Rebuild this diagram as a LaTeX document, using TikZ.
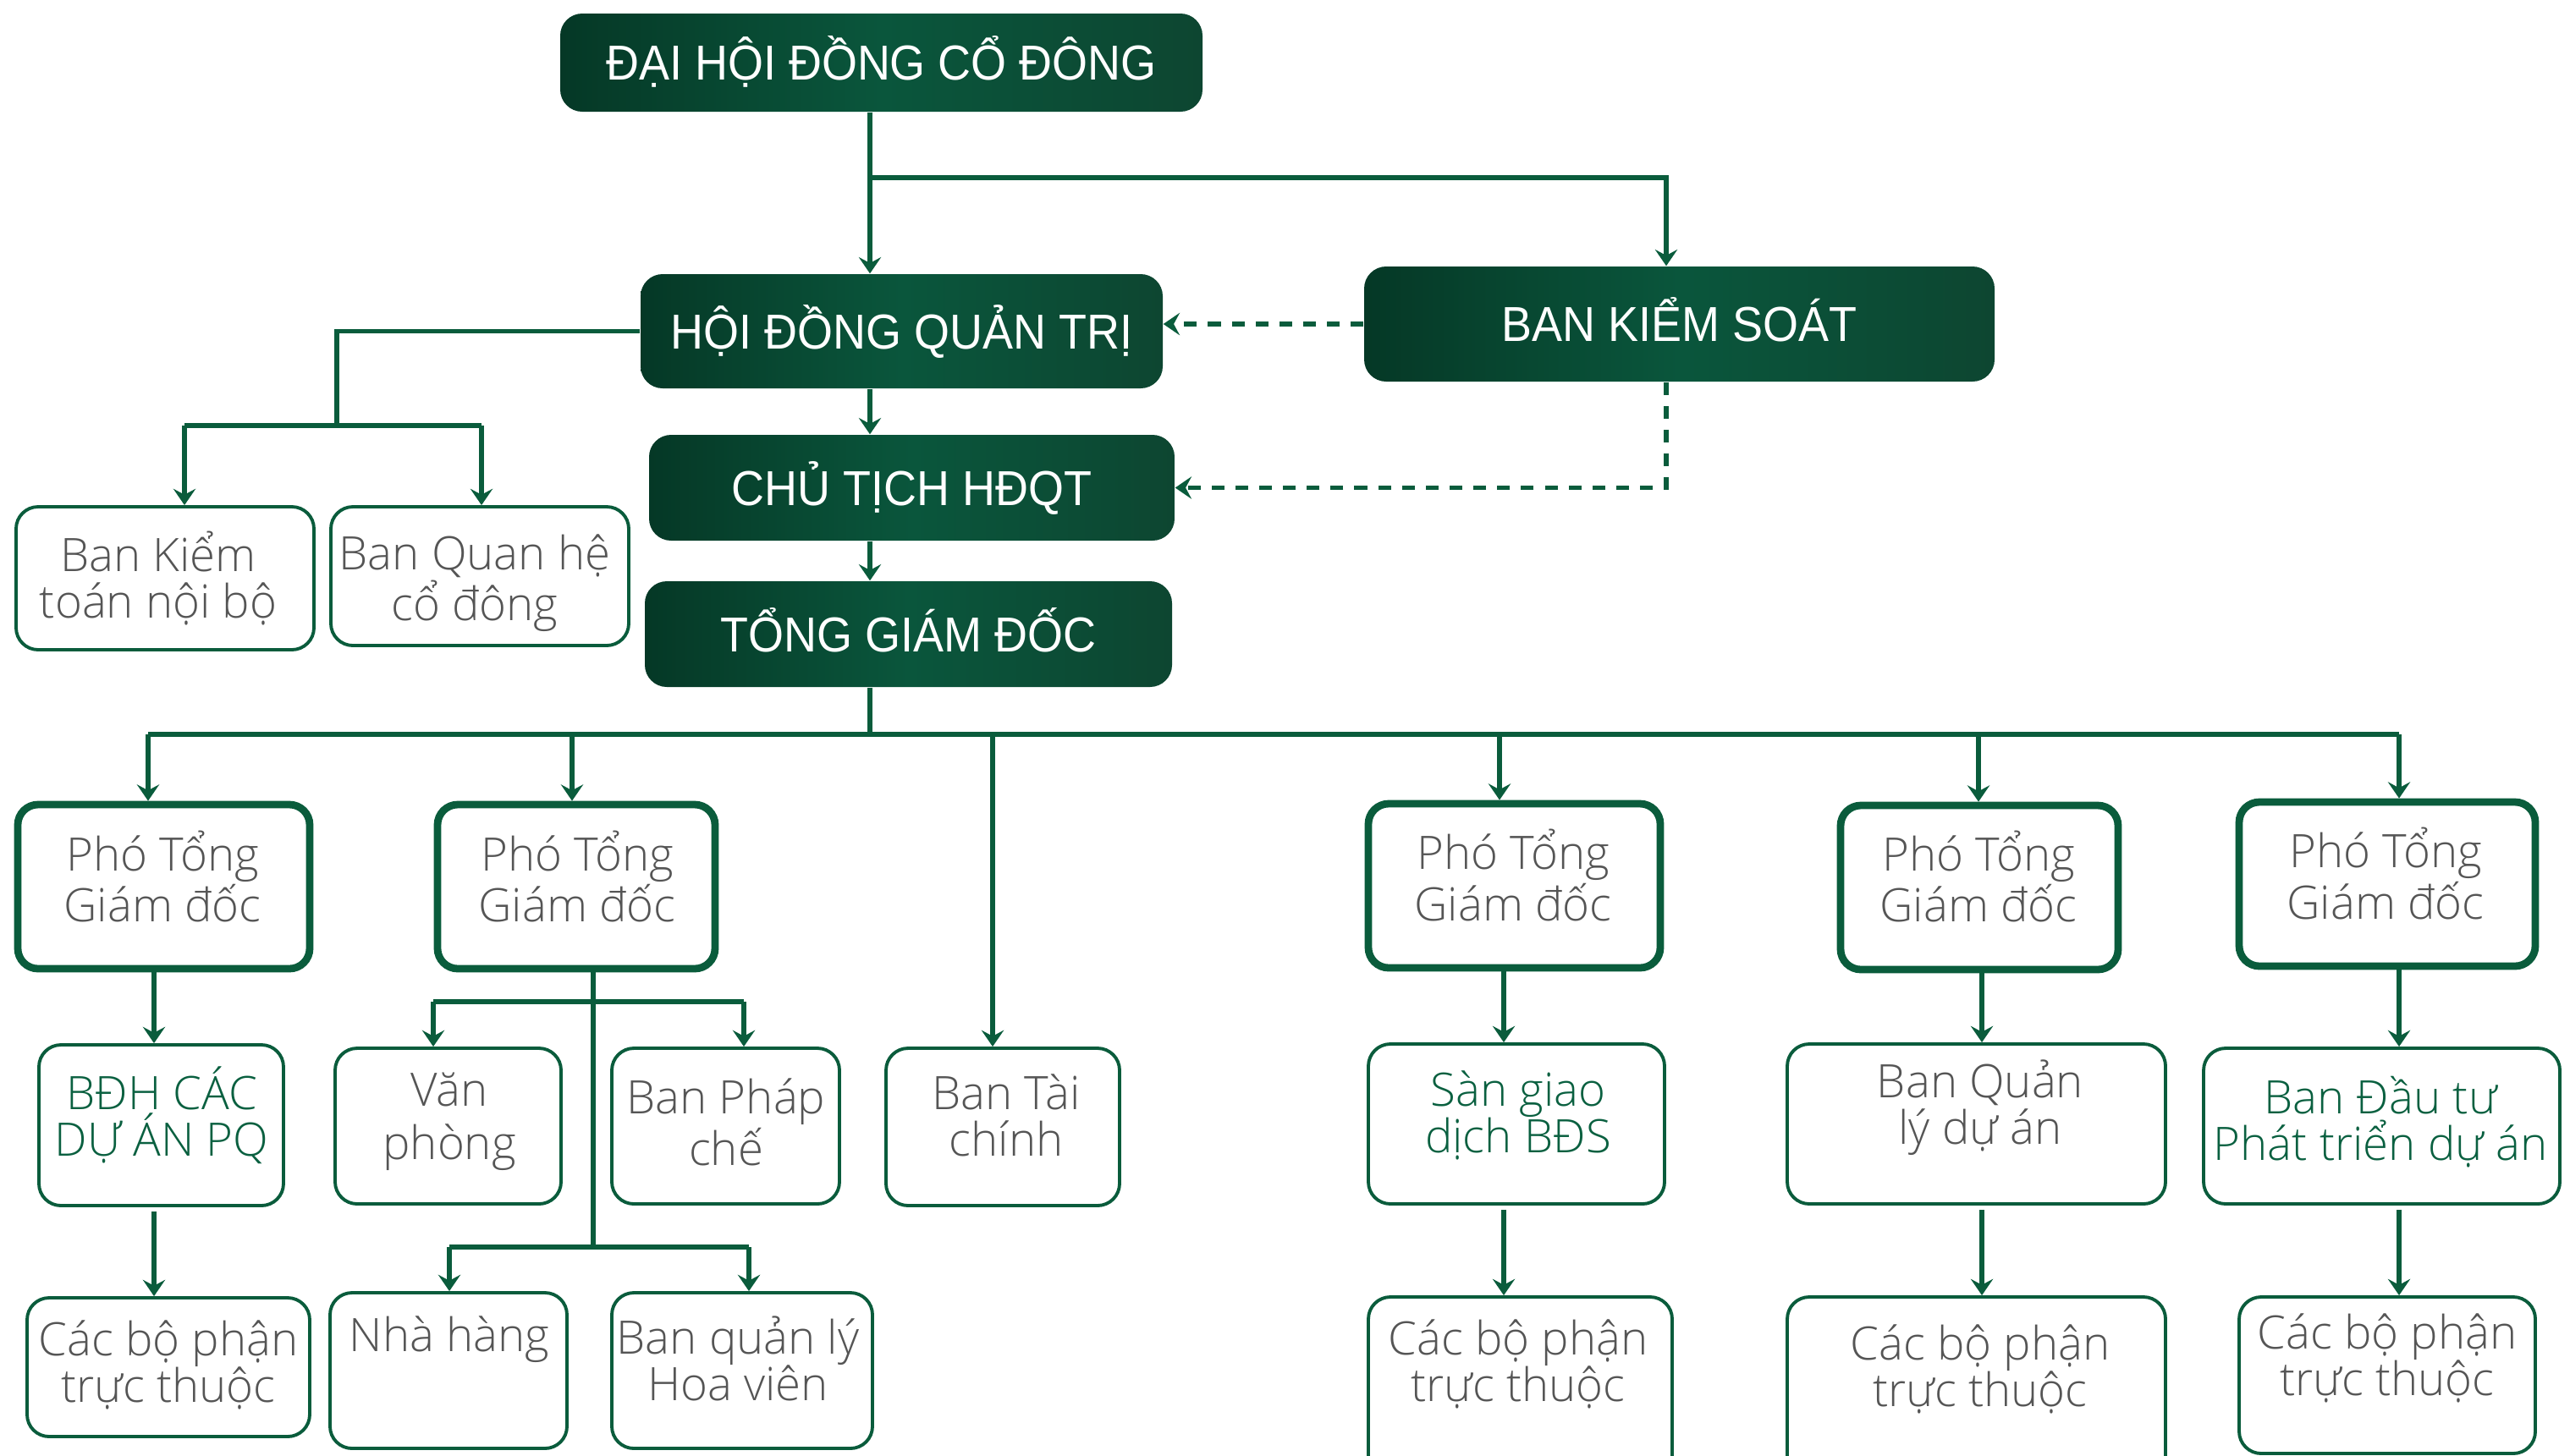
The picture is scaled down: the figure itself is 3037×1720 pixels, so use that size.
\documentclass[tikz,border=0pt]{standalone}
\usepackage{fontspec}
\setmainfont{Open Sans Light}
\newfontfamily\headfont[FakeStretch=0.93]{Liberation Sans}
\usetikzlibrary{arrows.meta,calc}
\newlength\px \setlength\px{0.01cm}
\definecolor{lnk}{RGB}{10,92,60}
\definecolor{hdA}{RGB}{5,56,38}
\definecolor{hdB}{RGB}{10,86,60}
\definecolor{hdC}{RGB}{13,70,49}
\definecolor{gtx}{RGB}{85,85,85}
\definecolor{gtg}{RGB}{10,96,64}
\tikzset{
  head/.style={rounded corners=26\px, left color=hdA, right color=hdC, middle color=hdB,
    text=white, font=\headfont\fontsize{16.5}{19}\selectfont, inner sep=0pt,
    text height=11.8pt, text depth=0pt},
  obox/.style={draw=lnk, line width=1.1pt, rounded corners=26\px, inner sep=0pt, fill=white},
  pbox/.style={draw=lnk, line width=2.5pt, rounded corners=24\px, inner sep=0pt, fill=white},
  gtext/.style={text=gtx, align=center, font=\fontsize{15.5}{15.6}\selectfont, inner sep=0pt},
  gtextg/.style={gtext, text=gtg},
  conn/.style={draw=lnk, line width=1.5pt},
  arr/.style={conn, -{Stealth[length=5.5pt,width=7.5pt,inset=2pt]}},
  darr/.style={arr, dash pattern=on 4.3pt off 3.7pt},
}
\begin{document}
\begin{tikzpicture}[x=0.01cm,y=-0.01cm]
\useasboundingbox (0,0) rectangle (3037,1720);
\clip (0,0) rectangle (3037,1720);
% header boxes
\node[head, minimum width=759\px, minimum height=116\px] (dh) at (1041.5,74) {ĐẠI HỘI ĐỒNG CỔ ĐÔNG};
\node[head, minimum width=617\px, minimum height=135\px] (hq) at (1065.5,391.5) {HỘI ĐỒNG QUẢN TRỊ};
\node[head, minimum width=745\px, minimum height=136\px] (bks) at (1984.5,383) {BAN KIỂM SOÁT};
\node[head, minimum width=621\px, minimum height=125\px] (ct) at (1077.5,576.5) {CHỦ TỊCH HĐQT};
\node[head, minimum width=623\px, minimum height=125\px] (tgd) at (1073.5,749.5) {TỔNG GIÁM ĐỐC};
% outline boxes
\node[obox, minimum width=352\px, minimum height=169\px] (bk) at (195,683.5) {};
\node[obox, minimum width=352\px, minimum height=164\px] (bq) at (567,681) {};
\node[pbox, minimum width=345\px, minimum height=194\px] (p1) at (193.5,1048) {};
\node[pbox, minimum width=328\px, minimum height=194\px] (p2) at (681,1048) {};
\node[pbox, minimum width=345\px, minimum height=194\px] (p3) at (1789.5,1047) {};
\node[pbox, minimum width=328\px, minimum height=194\px] (p4) at (2339,1049) {};
\node[pbox, minimum width=350\px, minimum height=194\px] (p5) at (2821,1045) {};
\node[obox, minimum width=289\px, minimum height=190\px] (bdh) at (190.5,1330) {};
\node[obox, minimum width=267\px, minimum height=184\px] (vp) at (529.5,1331) {};
\node[obox, minimum width=269\px, minimum height=184\px] (pc) at (857.5,1331) {};
\node[obox, minimum width=276\px, minimum height=186\px] (tc) at (1185,1332) {};
\node[obox, minimum width=350\px, minimum height=189\px] (sg) at (1792,1328.5) {};
\node[obox, minimum width=447\px, minimum height=189\px] (ql) at (2335.5,1328.5) {};
\node[obox, minimum width=421\px, minimum height=184\px] (dt) at (2814.5,1331) {};
\node[obox, minimum width=334\px, minimum height=164\px] (cb1) at (199,1616) {};
\node[obox, minimum width=280\px, minimum height=184\px] (nh) at (530,1620) {};
\node[obox, minimum width=308\px, minimum height=184\px] (hv) at (877,1620) {};
\node[obox, minimum width=359\px, minimum height=227\px] (cb3) at (1796.5,1646.5) {};
\node[obox, minimum width=447\px, minimum height=227\px] (cb4) at (2335.5,1646.5) {};
\node[obox, minimum width=350\px, minimum height=185\px] (cb5) at (2821,1625.5) {};
% texts
\node[gtext] (bkt) at (187,683.5) {Ban Kiểm\\toán nội bộ};
\node[gtext] (bqt) at (561,689.5) {Ban Quan hệ\\cổ đông};
\node[gtext] (p1t) at (192,1036) {Phó Tổng\\Giám đốc};
\node[gtext] (p2t) at (682,1036) {Phó Tổng\\Giám đốc};
\node[gtext] (p3t) at (1788,1034.5) {Phó Tổng\\Giám đốc};
\node[gtext] (p4t) at (2338,1036) {Phó Tổng\\Giám đốc};
\node[gtext] (p5t) at (2819,1032.5) {Phó Tổng\\Giám đốc};
\node[gtextg] (bdht) at (191,1318) {BĐH CÁC\\DỰ ÁN PQ};
\node[gtext, font=\fontsize{15.5}{18}\selectfont] (vpt) at (531,1325.5) {Văn\\phòng};
\node[gtext] (pct) at (858,1326.5) {Ban Pháp\\chế};
\node[gtext] (tct) at (1189,1318) {Ban Tài\\chính};
\node[gtext] (cb1t) at (199,1613.5) {Các bộ phận\\trực thuộc};
\node[gtext] (nht) at (531,1583) {Nhà hàng};
\node[gtext] (hvt) at (872,1606) {Ban quản lý\\Hoa viên};
\node[gtextg] (sgt) at (1794,1318) {Sàn giao\\dịch BĐS};
\node[gtext] (qlt) at (2340,1309) {Ban Quản\\lý dự án};
\node[gtextg] (dtt) at (2813,1326.5) {Ban Đầu tư\\Phát triển dự án};
\node[gtext] (cb3t) at (1794,1612) {Các bộ phận\\trực thuộc};
\node[gtext] (cb4t) at (2340,1618.5) {Các bộ phận\\trực thuộc};
\node[gtext] (cb5t) at (2821,1605) {Các bộ phận\\trực thuộc};
% helper coordinates
\coordinate (sp) at (1028,0);
\coordinate (j1) at (1028,210);
\coordinate (bx) at (1969,0);
\coordinate (j2) at (398,503);
\coordinate (a1) at (218,503);
\coordinate (a2) at (569,503);
\coordinate (bl) at (175,868);
\coordinate (b2) at (676,868);
\coordinate (b3) at (1173,868);
\coordinate (b4) at (1772,868);
\coordinate (b5) at (2338,868);
\coordinate (br) at (2835,868);
\coordinate (c1) at (182,0);
\coordinate (c2) at (701,0);
\coordinate (c3) at (1777,0);
\coordinate (c4) at (2342,0);
\coordinate (c5) at (2835,0);
\coordinate (j3) at (701,1474);
\coordinate (v1) at (512,1184);
\coordinate (v2) at (879,1184);
\coordinate (n1) at (531,1474);
\coordinate (n2) at (885,1474);
% top connectors
\draw[arr] (dh.south -| sp) -- (hq.north -| sp);
\draw[arr] (j1) -| (bks.north -| bx);
\draw[darr] (bks.west) -- (hq.east |- bks.west);
\draw[darr] (bks.south -| bx) |- (ct.east);
\draw[arr] (hq.south -| sp) -- (ct.north -| sp);
\draw[arr] (ct.south -| sp) -- (tgd.north -| sp);
\draw[conn] (hq.west) -| (j2);
\draw[conn] (a1) -- (a2);
\draw[arr] (a1) -- (bk.north -| a1);
\draw[arr] (a2) -- (bq.north -| a2);
% bus
\draw[conn] (tgd.south -| sp) -- (bl -| sp);
\draw[conn] (bl) -- (br);
\draw[arr] (bl) -- (p1.north -| bl);
\draw[arr] (b2) -- (p2.north -| b2);
\draw[arr] (b3) -- (tc.north -| b3);
\draw[arr] (b4) -- (p3.north -| b4);
\draw[arr] (b5) -- (p4.north -| b5);
\draw[arr] (br) -- (p5.north -| br);
% columns
\draw[arr] (p1.south -| c1) -- (bdh.north -| c1);
\draw[arr] ([yshift=-5\px]bdh.south -| c1) -- (cb1.north -| c1);
\draw[conn] (p2.south -| c2) -- (j3);
\draw[conn] (v1) -- (v2);
\draw[arr] (v1) -- (vp.north -| v1);
\draw[arr] (v2) -- (pc.north -| v2);
\draw[conn] (n1) -- (n2);
\draw[arr] (n1) -- (nh.north -| n1);
\draw[arr] (n2) -- (hv.north -| n2);
\draw[arr] (p3.south -| c3) -- (sg.north -| c3);
\draw[arr] ([yshift=-5\px]sg.south -| c3) -- (cb3.north -| c3);
\draw[arr] (p4.south -| c4) -- (ql.north -| c4);
\draw[arr] ([yshift=-5\px]ql.south -| c4) -- (cb4.north -| c4);
\draw[arr] (p5.south -| c5) -- (dt.north -| c5);
\draw[arr] ([yshift=-5\px]dt.south -| c5) -- (cb5.north -| c5);
\end{tikzpicture}
\end{document}
